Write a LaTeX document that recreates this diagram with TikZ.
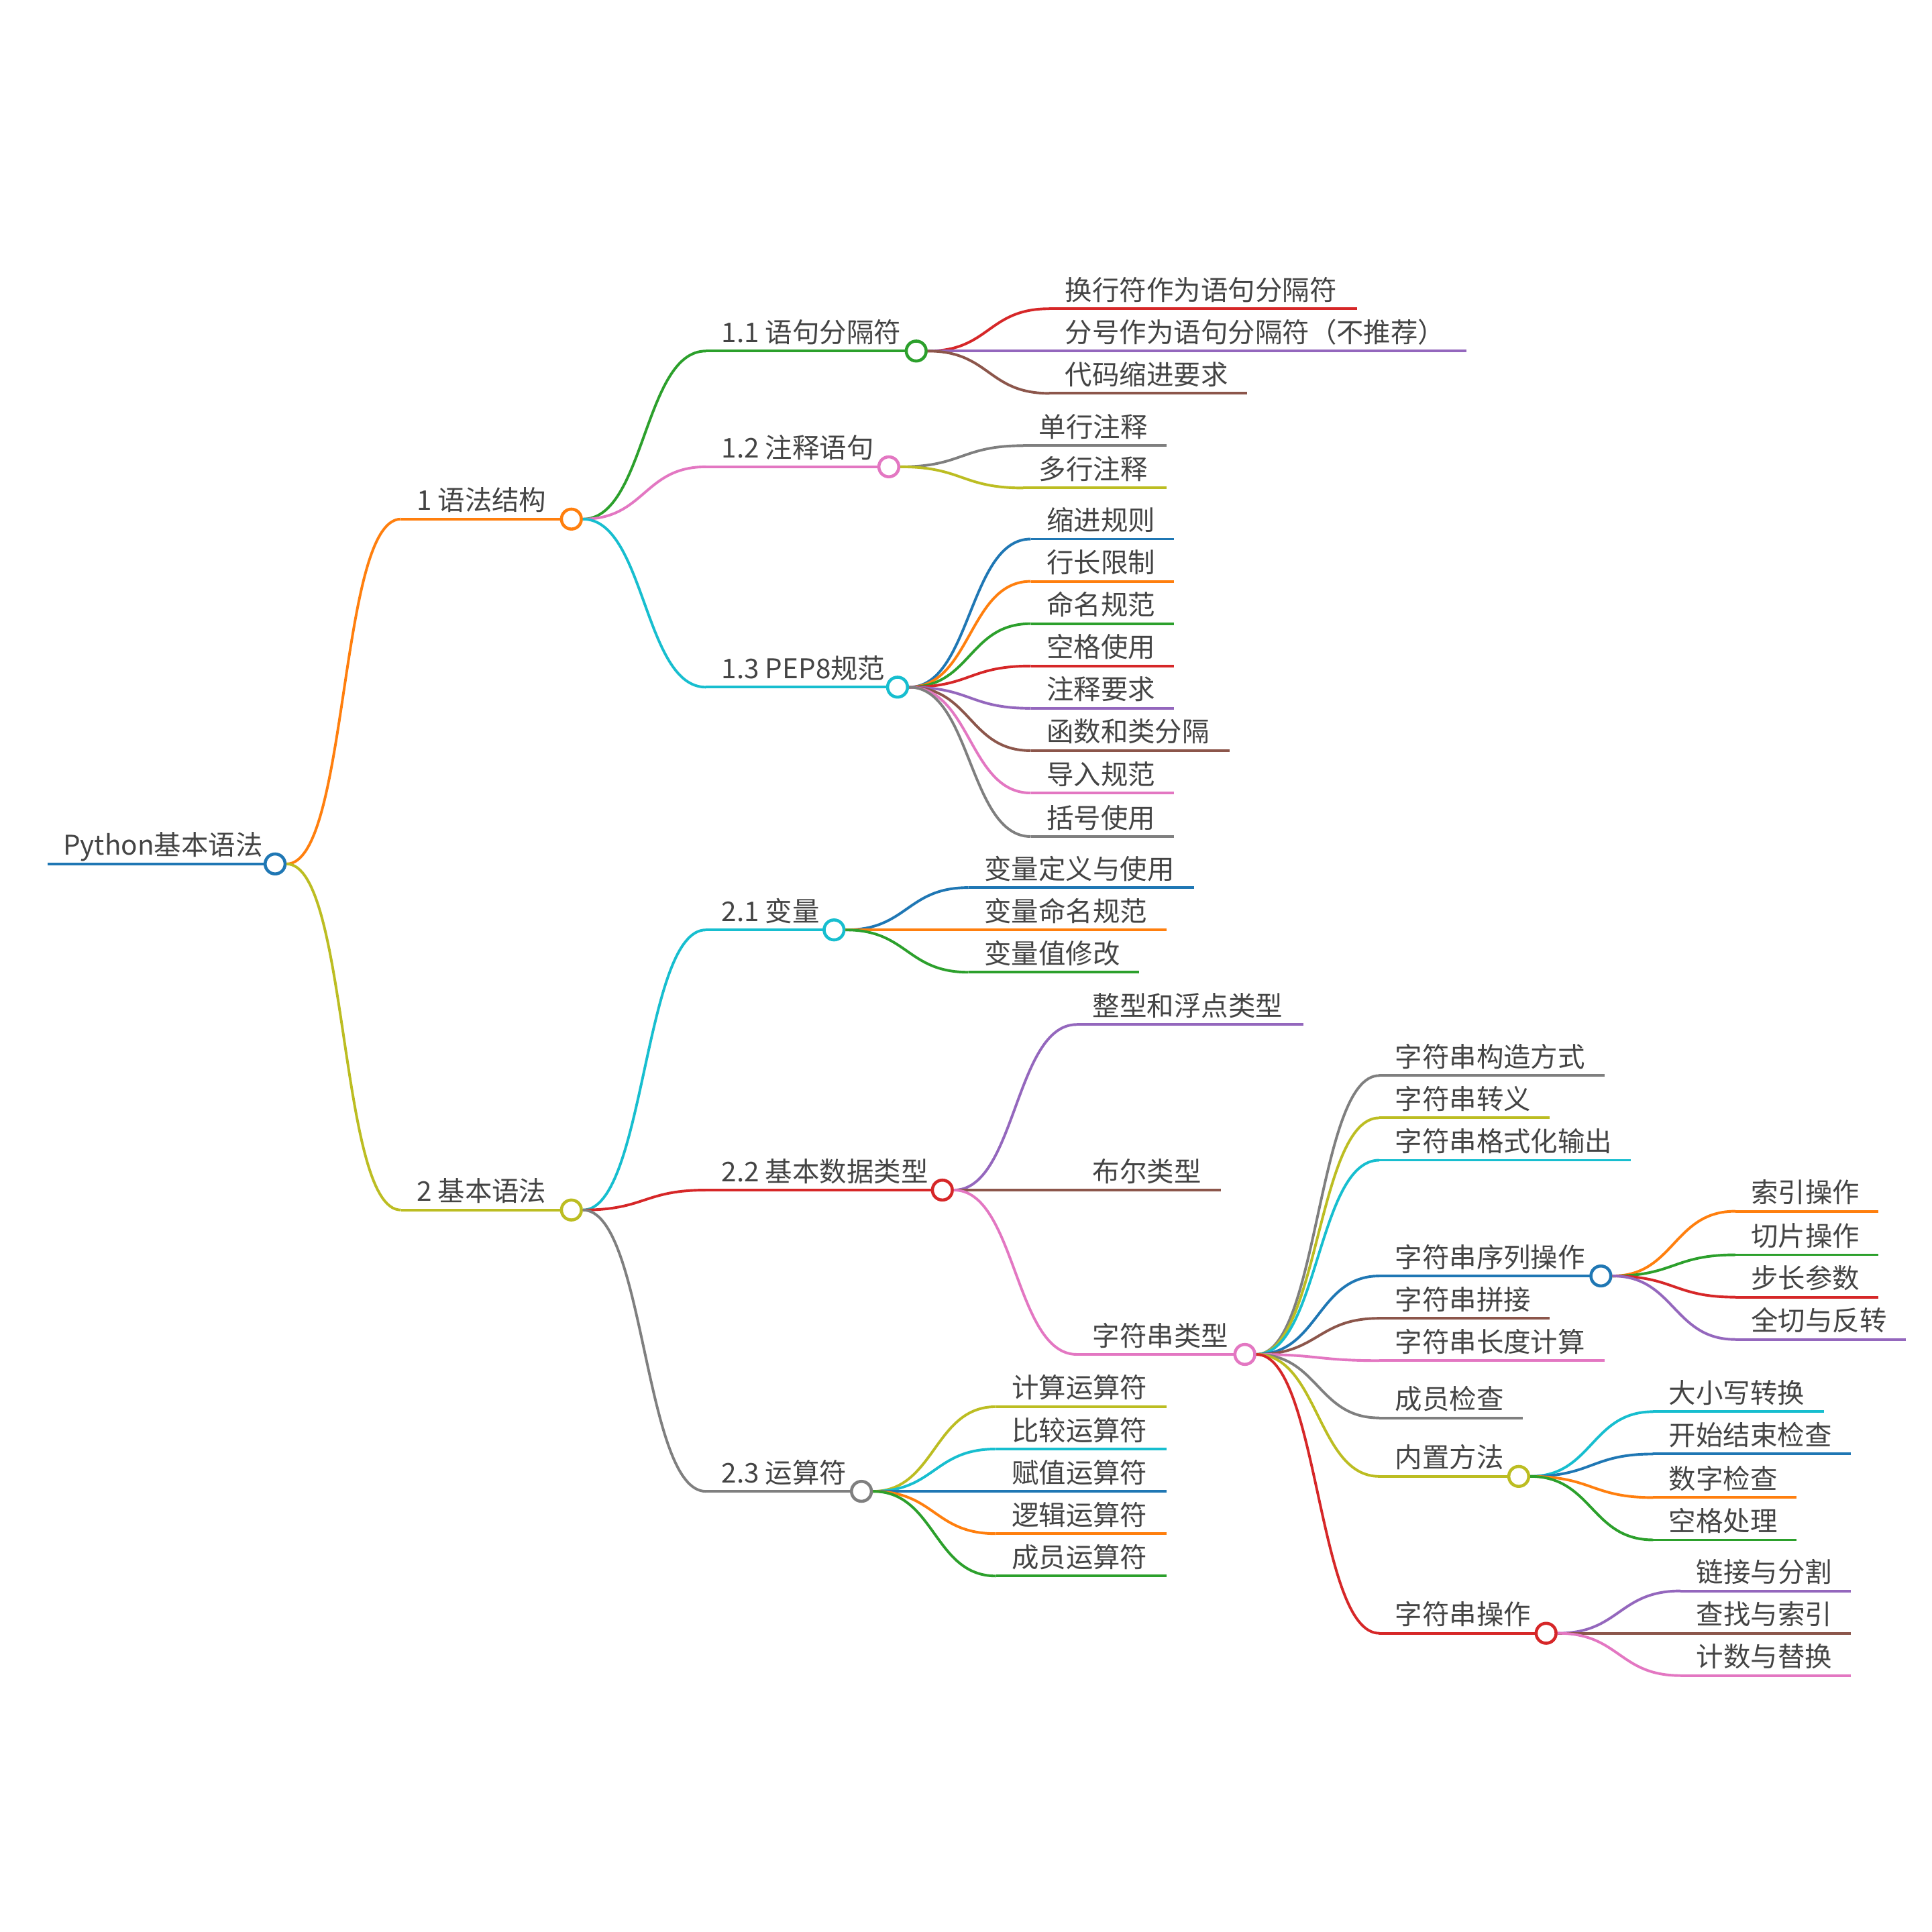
\documentclass[tikz,border=0pt]{standalone}
\usepackage{fontspec}
\setmainfont{Noto Sans CJK SC}
\usetikzlibrary{positioning}
\definecolor{cblue}{HTML}{1F77B4}
\definecolor{corange}{HTML}{FF7F0E}
\definecolor{cgreen}{HTML}{2CA02C}
\definecolor{cred}{HTML}{D62728}
\definecolor{cpurple}{HTML}{9467BD}
\definecolor{cbrown}{HTML}{8C564B}
\definecolor{cpink}{HTML}{E377C2}
\definecolor{cgray}{HTML}{7F7F7F}
\definecolor{colive}{HTML}{BCBD22}
\definecolor{ccyan}{HTML}{17BECF}
\definecolor{ctext}{HTML}{444444}
\tikzset{
  mmline/.style={line width=0.6pt},
  mmtext/.style={text=ctext,font=\fontsize{6.2}{7}\selectfont,inner sep=0pt},
  mmdot/.style={circle,fill=white,line width=0.7pt,minimum size=0.16cm,inner sep=0pt}
}
% name, x1, x2, y, colour, text
\newcommand\mmnode[6]{%
  \coordinate (#1-s) at (#2,#4);
  \draw[mmline,#5] (#1-s) -- (#3,#4);
  \node[mmtext,anchor=base west] (#1) at (#2+12,#4-7) {#6};}
% name, x, y, colour
\newcommand\mmdot[4]{\node[mmdot,draw=#4] (#1-c) at (#2,#3) {};}
% parent, child, colour
\newcommand\mmlink[3]{\draw[mmline,#3] (#1-c.east) .. controls +(50,0) and +(-50,0) .. (#2-s);}

\begin{document}
\begin{tikzpicture}[x=0.01cm,y=-0.01cm]
    \fill[white] (0,0) rectangle (1552,1552);
    % root and first level
    \mmnode{root}{38}{213}{694}{cblue}{Python基本语法}
    \mmdot{root}{221}{694}{cblue}
    \mmnode{a}{322}{451}{417}{corange}{1 语法结构}
    \mmnode{b}{322}{451}{972}{colive}{2 基本语法}
    \mmlink{root}{a}{corange}
    \mmlink{root}{b}{colive}

    % 1 语法结构
    \mmdot{a}{459}{417}{corange}
    \mmnode{a1}{567}{728}{282}{cgreen}{1.1 语句分隔符}
    \mmnode{a2}{567}{706}{375}{cpink}{1.2 注释语句}
    \mmnode{a3}{567}{713}{552}{ccyan}{1.3 PEP8规范}
    \mmlink{a}{a1}{cgreen}
    \mmlink{a}{a2}{cpink}
    \mmlink{a}{a3}{ccyan}

    \mmdot{a1}{736}{282}{cgreen}
    \mmnode{a11}{843}{1090}{248}{cred}{换行符作为语句分隔符}
    \mmnode{a12}{843}{1178}{282}{cpurple}{分号作为语句分隔符（不推荐）}
    \mmnode{a13}{843}{1002}{316}{cbrown}{代码缩进要求}
    \mmlink{a1}{a11}{cred}
    \mmlink{a1}{a12}{cpurple}
    \mmlink{a1}{a13}{cbrown}

    \mmdot{a2}{714}{375}{cpink}
    \mmnode{a21}{822}{937}{358}{cgray}{单行注释}
    \mmnode{a22}{822}{937}{392}{colive}{多行注释}
    \mmlink{a2}{a21}{cgray}
    \mmlink{a2}{a22}{colive}

    \mmdot{a3}{721}{552}{ccyan}
    \mmnode{a31}{828}{943}{433}{cblue}{缩进规则}
    \mmnode{a32}{828}{943}{467}{corange}{行长限制}
    \mmnode{a33}{828}{943}{501}{cgreen}{命名规范}
    \mmnode{a34}{828}{943}{535}{cred}{空格使用}
    \mmnode{a35}{828}{943}{569}{cpurple}{注释要求}
    \mmnode{a36}{828}{988}{603}{cbrown}{函数和类分隔}
    \mmnode{a37}{828}{943}{637}{cpink}{导入规范}
    \mmnode{a38}{828}{943}{672}{cgray}{括号使用}
    \mmlink{a3}{a31}{cblue}
    \mmlink{a3}{a32}{corange}
    \mmlink{a3}{a33}{cgreen}
    \mmlink{a3}{a34}{cred}
    \mmlink{a3}{a35}{cpurple}
    \mmlink{a3}{a36}{cbrown}
    \mmlink{a3}{a37}{cpink}
    \mmlink{a3}{a38}{cgray}

    % 2 基本语法
    \mmdot{b}{459}{972}{colive}
    \mmnode{b1}{567}{662}{747}{ccyan}{2.1 变量}
    \mmnode{b2}{567}{749}{956}{cred}{2.2 基本数据类型}
    \mmnode{b3}{567}{684}{1198}{cgray}{2.3 运算符}
    \mmlink{b}{b1}{ccyan}
    \mmlink{b}{b2}{cred}
    \mmlink{b}{b3}{cgray}

    \mmdot{b1}{670}{747}{ccyan}
    \mmnode{b11}{778}{959}{713}{cblue}{变量定义与使用}
    \mmnode{b12}{778}{937}{747}{corange}{变量命名规范}
    \mmnode{b13}{778}{915}{781}{cgreen}{变量值修改}
    \mmlink{b1}{b11}{cblue}
    \mmlink{b1}{b12}{corange}
    \mmlink{b1}{b13}{cgreen}

    \mmdot{b2}{757}{956}{cred}
    \mmnode{b21}{865}{1047}{823}{cpurple}{整型和浮点类型}
    \mmnode{b22}{865}{981}{956}{cbrown}{布尔类型}
    \mmnode{b23}{865}{992}{1088}{cpink}{字符串类型}
    \mmlink{b2}{b21}{cpurple}
    \mmlink{b2}{b22}{cbrown}
    \mmlink{b2}{b23}{cpink}

    \mmdot{b3}{692}{1198}{cgray}
    \mmnode{b31}{800}{937}{1130}{colive}{计算运算符}
    \mmnode{b32}{800}{937}{1164}{ccyan}{比较运算符}
    \mmnode{b33}{800}{937}{1198}{cblue}{赋值运算符}
    \mmnode{b34}{800}{937}{1232}{corange}{逻辑运算符}
    \mmnode{b35}{800}{937}{1266}{cgreen}{成员运算符}
    \mmlink{b3}{b31}{colive}
    \mmlink{b3}{b32}{ccyan}
    \mmlink{b3}{b33}{cblue}
    \mmlink{b3}{b34}{corange}
    \mmlink{b3}{b35}{cgreen}

    % 字符串类型
    \mmdot{b23}{1000}{1088}{cpink}
    \mmnode{s1}{1108}{1289}{864}{cgray}{字符串构造方式}
    \mmnode{s2}{1108}{1245}{898}{colive}{字符串转义}
    \mmnode{s3}{1108}{1310}{932}{ccyan}{字符串格式化输出}
    \mmnode{s4}{1108}{1278}{1025}{cblue}{字符串序列操作}
    \mmnode{s5}{1108}{1245}{1059}{cbrown}{字符串拼接}
    \mmnode{s6}{1108}{1289}{1093}{cpink}{字符串长度计算}
    \mmnode{s7}{1108}{1223}{1139}{cgray}{成员检查}
    \mmnode{s8}{1108}{1212}{1186}{colive}{内置方法}
    \mmnode{s9}{1108}{1234}{1312}{cred}{字符串操作}
    \mmlink{b23}{s1}{cgray}
    \mmlink{b23}{s2}{colive}
    \mmlink{b23}{s3}{ccyan}
    \mmlink{b23}{s4}{cblue}
    \mmlink{b23}{s5}{cbrown}
    \mmlink{b23}{s6}{cpink}
    \mmlink{b23}{s7}{cgray}
    \mmlink{b23}{s8}{colive}
    \mmlink{b23}{s9}{cred}

    \mmdot{s4}{1286}{1025}{cblue}
    \mmnode{s41}{1394}{1509}{973}{corange}{索引操作}
    \mmnode{s42}{1394}{1509}{1008}{cgreen}{切片操作}
    \mmnode{s43}{1394}{1509}{1042}{cred}{步长参数}
    \mmnode{s44}{1394}{1531}{1076}{cpurple}{全切与反转}
    \mmlink{s4}{s41}{corange}
    \mmlink{s4}{s42}{cgreen}
    \mmlink{s4}{s43}{cred}
    \mmlink{s4}{s44}{cpurple}

    \mmdot{s8}{1220}{1186}{colive}
    \mmnode{s81}{1328}{1465}{1134}{ccyan}{大小写转换}
    \mmnode{s82}{1328}{1487}{1168}{cblue}{开始结束检查}
    \mmnode{s83}{1328}{1443}{1203}{corange}{数字检查}
    \mmnode{s84}{1328}{1443}{1237}{cgreen}{空格处理}
    \mmlink{s8}{s81}{ccyan}
    \mmlink{s8}{s82}{cblue}
    \mmlink{s8}{s83}{corange}
    \mmlink{s8}{s84}{cgreen}

    \mmdot{s9}{1242}{1312}{cred}
    \mmnode{s91}{1350}{1487}{1278}{cpurple}{链接与分割}
    \mmnode{s92}{1350}{1487}{1312}{cbrown}{查找与索引}
    \mmnode{s93}{1350}{1487}{1346}{cpink}{计数与替换}
    \mmlink{s9}{s91}{cpurple}
    \mmlink{s9}{s92}{cbrown}
    \mmlink{s9}{s93}{cpink}
\end{tikzpicture}
\end{document}
